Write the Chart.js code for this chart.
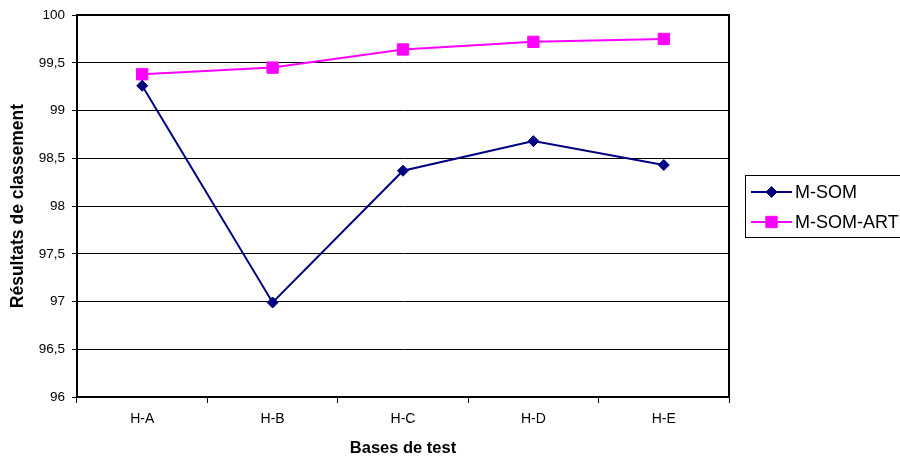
<!DOCTYPE html>
<html>
<head>
<meta charset="utf-8">
<script src="https://cdn.jsdelivr.net/npm/chart.js@4.4.1/dist/chart.umd.min.js"></script>
<style>
  html, body { margin: 0; padding: 0; background: #fff; }
  #wrap { width: 900px; height: 459px; position: relative; }
</style>
</head>
<body>
<div id="wrap"><canvas id="c" width="900" height="459"></canvas></div>
<script>
// Test bases on the x axis
const categories = ['H-A', 'H-B', 'H-C', 'H-D', 'H-E'];
// Classification results (%) per method
const mSom = [99.26, 96.99, 98.37, 98.68, 98.43];
const mSomArt = [99.38, 99.45, 99.64, 99.72, 99.75];
const seriesNames = ['M-SOM', 'M-SOM-ART'];
// y axis range
const yMin = 96, yMax = 100, yStep = 0.5;

const FONT = '"Liberation Sans", Arial, sans-serif';

// Frame on top/right of the plot plus the boxed legend on the right
const framePlugin = {
  id: 'frameAndLegend',
  afterDraw(chart) {
    const { ctx, chartArea: a } = chart;
    ctx.save();
    ctx.strokeStyle = '#000';
    ctx.lineWidth = 2;
    ctx.beginPath();
    ctx.moveTo(a.left, a.top);
    ctx.lineTo(a.right, a.top);
    ctx.lineTo(a.right, a.bottom);
    ctx.stroke();

    // legend box
    const bx = 745.5, by = 175.5, bw = 170, bh = 62;
    ctx.lineWidth = 1;
    ctx.strokeRect(bx, by, bw, bh);
    ctx.font = '18px ' + FONT;
    ctx.textBaseline = 'middle';
    ctx.textAlign = 'left';
    chart.data.datasets.forEach((ds, i) => {
      const y = 192 + i * 30;
      ctx.strokeStyle = ds.borderColor;
      ctx.lineWidth = 2;
      ctx.beginPath();
      ctx.moveTo(751, y);
      ctx.lineTo(792, y);
      ctx.stroke();
      ctx.fillStyle = ds.pointBackgroundColor;
      ctx.strokeStyle = ds.pointBorderColor;
      ctx.lineWidth = 1;
      Chart.helpers.drawPoint(ctx, {
        pointStyle: ds.pointStyle,
        rotation: 0,
        radius: ds.pointRadius,
        borderWidth: 1
      }, 771.5, y);
      ctx.fillStyle = '#000';
      ctx.fillText(ds.label, 795, y + 1);
    });
    ctx.restore();
  }
};

new Chart(document.getElementById('c'), {
  type: 'line',
  data: {
    labels: categories,
    datasets: [
      {
        label: seriesNames[0],
        data: mSom,
        borderColor: '#000080',
        backgroundColor: '#000080',
        pointBackgroundColor: '#000080',
        pointBorderColor: '#000080',
        pointStyle: 'rectRot',
        pointRadius: 5.5,
        pointBorderWidth: 1,
        borderWidth: 2,
        tension: 0
      },
      {
        label: seriesNames[1],
        data: mSomArt,
        borderColor: '#FF00FF',
        backgroundColor: '#FF00FF',
        pointBackgroundColor: '#FF00FF',
        pointBorderColor: '#FF00FF',
        pointStyle: 'rect',
        pointRadius: 8,
        pointBorderWidth: 1,
        borderWidth: 2,
        tension: 0
      }
    ]
  },
  options: {
    responsive: false,
    animation: false,
    layout: { padding: { top: 15, right: 171, left: 0, bottom: 0 } },
    plugins: {
      legend: { display: false },
      tooltip: { enabled: false }
    },
    scales: {
      x: {
        type: 'category',
        offset: true,
        afterFit(scale) { scale.height = 62; },
        grid: {
          offset: true,
          drawOnChartArea: false,
          drawTicks: true,
          tickLength: 6,
          color: '#000',
          lineWidth: 1
        },
        border: { display: true, color: '#000', width: 2 },
        ticks: {
          color: '#000',
          font: { family: FONT, size: 14 },
          padding: 8,
          maxRotation: 0
        },
        title: {
          display: true,
          text: 'Bases de test',
          color: '#000',
          font: { family: FONT, size: 16.5, weight: 'bold' },
          padding: { top: 0, bottom: 1 }
        }
      },
      y: {
        min: yMin,
        max: yMax,
        afterFit(scale) { scale.width = 77; },
        grid: {
          color: '#000',
          lineWidth: 1,
          drawTicks: true,
          tickLength: 5
        },
        border: { display: true, color: '#000', width: 2 },
        ticks: {
          stepSize: yStep,
          color: '#000',
          font: { family: FONT, size: 13.5 },
          padding: 7,
          callback: v => String(v).replace('.', ',')
        },
        title: {
          display: true,
          text: 'Résultats de classement',
          color: '#000',
          font: { family: FONT, size: 17.5, weight: 'bold' },
          padding: { top: 8, bottom: 0 }
        }
      }
    }
  },
  plugins: [framePlugin, {
    id: 'whiteBg',
    beforeDraw(chart) {
      const ctx = chart.ctx;
      ctx.save();
      ctx.fillStyle = '#fff';
      ctx.fillRect(0, 0, chart.width, chart.height);
      ctx.restore();
    }
  }]
});
</script>
</body>
</html>
